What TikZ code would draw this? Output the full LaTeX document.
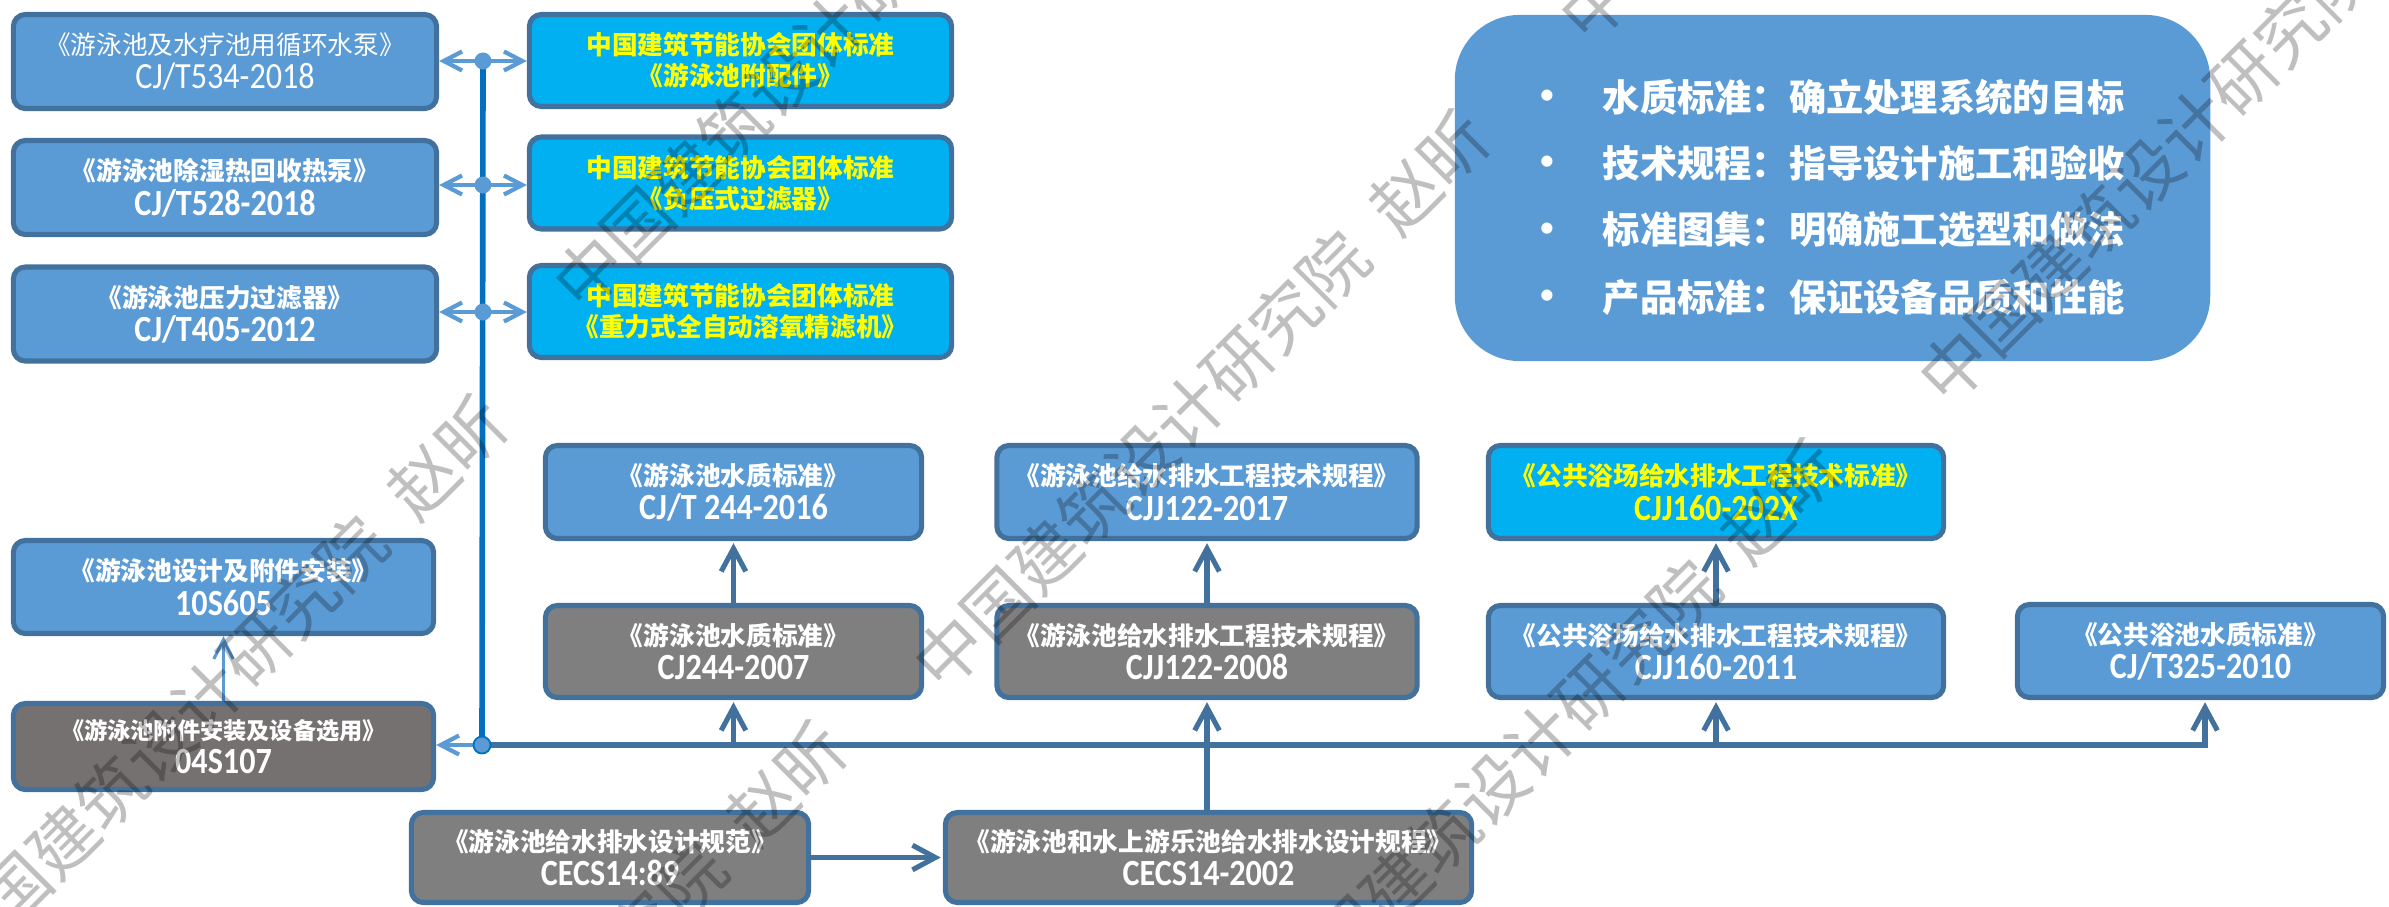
\documentclass[tikz,border=0pt]{standalone}
\usepackage{fontspec}
\setmainfont{Carlito}
\newfontfamily\cjk{Noto Sans CJK SC}
\newfontfamily\lat{Carlito}[FakeStretch=0.87]
\newfontfamily\latb{Carlito}
\usetikzlibrary{arrows.meta}
\definecolor{bblue}{HTML}{5B9BD5}
\definecolor{bcyan}{HTML}{00B0F0}
\definecolor{bgray}{HTML}{7F7F7F}
\definecolor{bdgray}{HTML}{767171}
\definecolor{edgec}{HTML}{41719C}
\definecolor{vblue}{HTML}{0070C0}
\definecolor{ylw}{HTML}{FFFF00}
\newcommand\zhl[1]{{\cjk\bfseries\fontsize{7.3}{9.8}\selectfont #1}}
\newcommand\zhr[1]{{\cjk\fontsize{7.3}{9.8}\selectfont #1}}
\newcommand\zhs[1]{{\cjk\bfseries\fontsize{6.6}{9.8}\selectfont #1}}
\newcommand\cdl[1]{{\lat\bfseries\fontsize{10.5}{9.8}\selectfont #1}}
\newcommand\cdr[1]{{\lat\fontsize{10.5}{9.8}\selectfont #1}}
\begin{document}
\begin{tikzpicture}[x=0.01cm,y=-0.01cm,
  box/.style={rectangle,rounded corners=0.12cm,draw=edgec,line width=1.45pt,inner sep=0pt,align=center,text=white,font=\fontsize{7.3}{9.8}\selectfont},
  bl/.style={box,fill=bblue},
  cy/.style={box,fill=bcyan,text=ylw},
  gr/.style={box,fill=bgray},
  dg/.style={box,fill=bdgray},
  sz/.style 2 args={minimum width=#1,minimum height=#2},
  arr/.style={draw=edgec,line width=1.45pt,shorten >=0.6pt,-{Straight Barb[length=6.5pt,width=7pt]}},
  larr/.style={draw=bblue,line width=1.2pt,-{Straight Barb[length=5.2pt,width=5.4pt]}},
  tarr/.style={draw=bblue,line width=0.9pt,-{Straight Barb[length=5.5pt,width=5.5pt]}},
  dot/.style={circle,fill=bblue,inner sep=0pt,minimum size=0.17cm},
  bt/.style={anchor=west,inner sep=0pt,text=white,font=\cjk\bfseries\fontsize{10.6}{10.6}\selectfont},
  bu/.style={inner sep=0pt,text=white,font=\latb\fontsize{9}{9}\selectfont},
  wm/.style={anchor=west,inner sep=0pt,rotate=45,text=black,text opacity=0.25,font=\cjk\fontsize{19.3}{19.3}\selectfont}
]
\useasboundingbox (0,0) rectangle (2389,906);

% left column
\node[bl,sz={4.23cm}{0.94cm}] (L1) at (225,61.5) {\zhr{《游泳池及水疗池用循环水泵》}\\\cdr{CJ/T534-2018}};
\node[bl,sz={4.23cm}{0.94cm}] (L2) at (225,187.5) {\zhl{《游泳池除湿热回收热泵》}\\\cdl{CJ/T528-2018}};
\node[bl,sz={4.23cm}{0.94cm}] (L3) at (225,314) {\zhl{《游泳池压力过滤器》}\\\cdl{CJ/T405-2012}};
% cyan column
\node[cy,sz={4.22cm}{0.92cm}] (C1) at (740.5,60.5) {\zhl{中国建筑节能协会团体标准}\\[-1pt]\zhl{《游泳池附配件》}};
\node[cy,sz={4.22cm}{0.92cm}] (C2) at (740.5,183) {\zhl{中国建筑节能协会团体标准}\\[-1pt]\zhl{《负压式过滤器》}};
\node[cy,sz={4.22cm}{0.92cm}] (C3) at (740.5,311.5) {\zhl{中国建筑节能协会团体标准}\\[-1pt]\zhl{《重力式全自动溶氧精滤机》}};
% lower left
\node[bl,sz={4.20cm}{0.93cm}] (L4) at (223.5,587) {\zhl{《游泳池设计及附件安装》}\\\cdl{10S605}};
\node[dg,sz={4.20cm}{0.86cm}] (L5) at (223.5,746.5) {\zhs{《游泳池附件安装及设备选用》}\\\cdl{04S107}};
% middle
\node[bl,sz={3.76cm}{0.93cm}] (M1) at (733.5,492) {\zhl{《游泳池水质标准》}\\\cdl{CJ/T 244-2016}};
\node[gr,sz={3.76cm}{0.92cm}] (M2) at (733.5,651.5) {\zhl{《游泳池水质标准》}\\\cdl{CJ244-2007}};
\node[bl,sz={4.20cm}{0.93cm}] (N1) at (1207,492) {\zhl{《游泳池给水排水工程技术规程》}\\\cdl{CJJ122-2017}};
\node[gr,sz={4.20cm}{0.92cm}] (N2) at (1207,651.5) {\zhl{《游泳池给水排水工程技术规程》}\\\cdl{CJJ122-2008}};
\node[cy,sz={4.55cm}{0.93cm}] (P1) at (1716,492) {\zhl{《公共浴场给水排水工程技术标准》}\\\cdl{CJJ160-202X}};
\node[bl,sz={4.55cm}{0.92cm}] (P2) at (1716,651.5) {\zhl{《公共浴场给水排水工程技术规程》}\\\cdl{CJJ160-2011}};
\node[bl,sz={3.66cm}{0.93cm}] (Q) at (2200.5,651) {\zhl{《公共浴池水质标准》}\\\cdl{CJ/T325-2010}};
% bottom
\node[gr,sz={3.97cm}{0.90cm}] (B1) at (610,857.5) {\zhl{《游泳池给水排水设计规范》}\\\cdl{CECS14:89}};
\node[gr,sz={5.26cm}{0.90cm}] (B2) at (1208.5,857.5) {\zhl{《游泳池和水上游乐池给水排水设计规程》}\\\cdl{CECS14-2002}};

% bullet box
\node[rectangle,rounded corners=0.65cm,fill=bblue,minimum width=7.55cm,minimum height=3.46cm] (BB) at (1832.5,188) {};
\node[bu] (U1) at (1547,97) {•};
\node[bu] (U2) at (1547,163) {•};
\node[bu] (U3) at (1547,230) {•};
\node[bu] (U4) at (1547,297) {•};
\node[bt] (R1) at (1602,97) {水质标准：确立处理系统的目标};
\node[bt] (R2) at (1602,163) {技术规程：指导设计施工和验收};
\node[bt] (R3) at (1602,230) {标准图集：明确施工选型和做法};
\node[bt] (R4) at (1602,297) {产品标准：保证设备品质和性能};

% connectors
\coordinate (d1) at (483,61);
\coordinate (d2) at (483,185);
\coordinate (d3) at (483,312);
\coordinate (j) at (482,745);
\coordinate (qx) at (2205,745);
\draw[vblue,line width=1.6pt] (d1) -- (j);
\draw[arr] (j) -- (qx) -- (qx |- Q.south);
\draw[arr] (M2.south |- j) -- (M2.south);
\draw[arr] (P2.south |- j) -- (P2.south);
\draw[arr] (M2.north) -- (M1.south);
\draw[arr] (N2.north) -- (N1.south);
\draw[arr] (P2.north) -- (P1.south);
\draw[arr] (B2.north -| N2.south) -- (N2.south);
\draw[arr] (B1.east) -- (B2.west);
\draw[tarr] (L5.north) -- (L4.south);
\draw[larr] (d1) -- (d1 -| L1.east);
\draw[larr] (d1) -- (d1 -| C1.west);
\draw[larr] (d2) -- (d2 -| L2.east);
\draw[larr] (d2) -- (d2 -| C2.west);
\draw[larr] (d3) -- (d3 -| L3.east);
\draw[larr] (d3) -- (d3 -| C3.west);
\draw[larr] (j) -- (j -| L5.east);
\node[dot] (D1) at (d1) {};
\node[dot] (D2) at (d2) {};
\node[dot] (D3) at (d3) {};
\node[dot,draw=vblue,line width=0.5pt] (J) at (j) {};

% watermark
\node[wm] (W1) at (-57,962) {中国建筑设计研究院\hspace{0.5em}赵昕};
\node[wm] (W2) at (565,297) {中国建筑设计研究院\hspace{0.5em}赵昕};
\node[wm] (W3) at (925,677) {中国建筑设计研究院\hspace{0.5em}赵昕};
\node[wm] (W4) at (1276,1006) {中国建筑设计研究院\hspace{0.5em}赵昕};
\node[wm] (W5) at (1930,391) {中国建筑设计研究院\hspace{0.5em}赵昕};
\node[wm] (W6) at (1571,29) {中国建筑设计研究院\hspace{0.5em}赵昕};
\node[wm] (W7) at (282,1288) {中国建筑设计研究院\hspace{0.5em}赵昕};
\end{tikzpicture}
\end{document}
